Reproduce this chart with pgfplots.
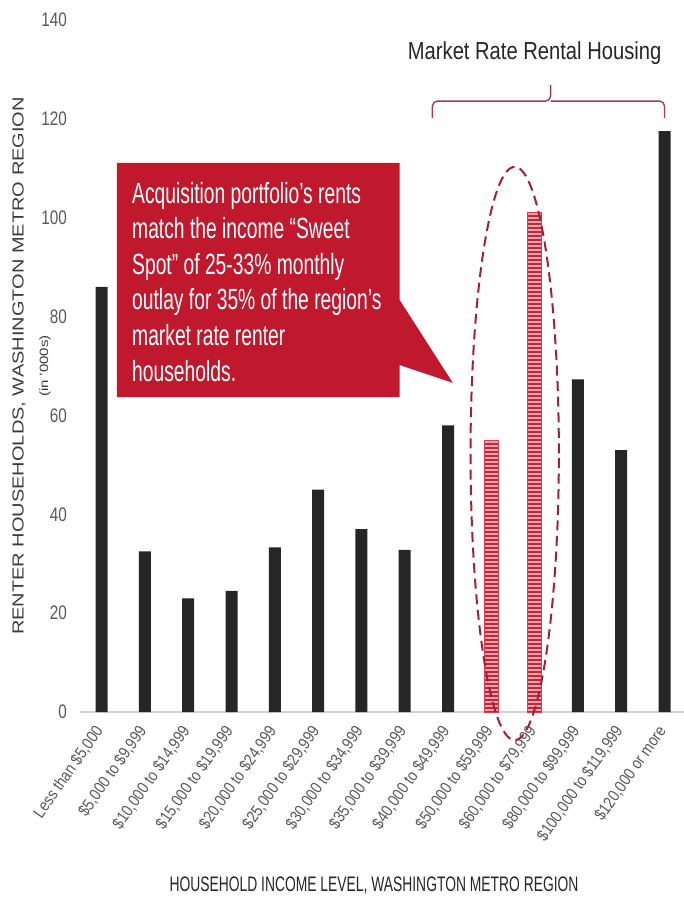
\documentclass[border=0pt]{standalone}
\usepackage{pgfplots}
\pgfplotsset{compat=1.18}
\usetikzlibrary{patterns.meta}
\usepackage{fontspec}
\setmainfont{Liberation Sans}[FakeStretch=0.66]
\newfontfamily\titlefont{Liberation Sans}[FakeStretch=0.82]
\newfontfamily\tickfont{Liberation Sans}[FakeStretch=0.78]
\newfontfamily\xtickfont{Liberation Sans}[FakeStretch=0.85]
\newfontfamily\ylabfont{Liberation Sans}
\definecolor{barblack}{HTML}{262626}
\definecolor{tickgray}{HTML}{595959}
\definecolor{calloutred}{RGB}{192,24,44}
\definecolor{hatchpink}{RGB}{248,160,170}
\definecolor{hatchdark}{RGB}{180,45,60}
\definecolor{hatchedge}{RGB}{220,60,75}
\definecolor{ellred}{RGB}{165,30,55}
\definecolor{bracketred}{RGB}{170,60,75}
\begin{document}
\begin{tikzpicture}
\useasboundingbox (-40pt,-94pt) rectangle (302pt,356pt);
\begin{axis}[
  name=ax,
  at={(0pt,0pt)}, anchor=south west,
  scale only axis,
  width=302pt, height=346pt,
  xmin=-0.5, xmax=13.45,
  ymin=0, ymax=140,
  clip=false,
  axis x line=bottom, axis y line=left,
  x axis line style={draw=gray!35, line width=0.8pt, -},
  y axis line style={draw=none},
  xtick={0,...,13},
  xticklabels={{Less than \$5,000},{\$5,000 to \$9,999},{\$10,000 to \$14,999},{\$15,000 to \$19,999},{\$20,000 to \$24,999},{\$25,000 to \$29,999},{\$30,000 to \$34,999},{\$35,000 to \$39,999},{\$40,000 to \$49,999},{\$50,000 to \$59,999},{\$60,000 to \$79,999},{\$80,000 to \$99,999},{\$100,000 to \$119,999},{\$120,000 or more}},
  ytick={0,20,...,140},
  major tick length=0pt,
  tick style={draw=none},
  /pgf/number format/assume math mode=true,
  yticklabel style={font=\tickfont\fontsize{9.8}{11}\selectfont, text=tickgray, xshift=-3pt},
  xticklabel style={yshift=-5pt, xshift=1pt, rotate=55, anchor=east, font=\xtickfont\fontsize{8.3}{9}\selectfont, text=tickgray},
  ybar, bar shift=0pt,
]
\addplot[fill=barblack, draw=none, bar width=6pt] coordinates {
  (0,86) (1,32.5) (2,23) (3,24.5) (4,33.3) (5,45) (6,37) (7,32.8) (8,58) (11,67.3) (12,53) (13,117.5)};
\addplot[fill=hatchpink, draw=hatchedge, line width=0.4pt, bar width=7pt,
  postaction={pattern={Lines[angle=0,distance=2pt,line width=1pt]}, pattern color=hatchdark}] coordinates {
  (9,55) (10,101)};
% callout
\fill[calloutred] (axis cs:0.35,111.1) -- (axis cs:6.88,111.1) -- (axis cs:6.88,83.4) -- (axis cs:8.11,66.6) -- (axis cs:6.88,70.2) -- (axis cs:6.88,63.7) -- (axis cs:0.35,63.7) -- cycle;
\node[anchor=north west, inner sep=0pt, align=left, text=white, font=\fontsize{14.6}{17.8}\selectfont, xshift=7.5pt, yshift=-9.3pt] at (axis cs:0.35,111.1)
 {Acquisition portfolio’s rents\\match the income “Sweet\\Spot” of 25-33\% monthly\\outlay for 35\% of the region’s\\market rate renter\\households.};
% ellipse
\draw[ellred, line width=1pt, dash pattern=on 5pt off 2.8pt] (axis cs:9.54,52.3) ellipse [x radius=1.02, y radius=58];
% bracket
\draw[bracketred, line width=0.7pt, rounded corners=2.5pt] (axis cs:7.64,120.2) -- (axis cs:7.64,123.6) -- (axis cs:10.37,123.6) -- (axis cs:10.37,126.8);
\draw[bracketred, line width=0.7pt, rounded corners=2.5pt] (axis cs:10.37,123.6) -- (axis cs:13.0,123.6) -- (axis cs:13.0,120.2);
\node[font=\titlefont\fontsize{12.3}{14}\selectfont, text=barblack] at (axis cs:10.0,133.2) {Market Rate Rental Housing};
\end{axis}
\node[rotate=90, yscale=0.8, font=\ylabfont\fontsize{10}{12}\selectfont, text=barblack!90] at ([xshift=-30.5pt]ax.west) {RENTER HOUSEHOLDS, WASHINGTON METRO REGION};
\node[rotate=90, yscale=0.8, font=\ylabfont\fontsize{7.5}{9}\selectfont, text=barblack!90] at ([xshift=-17.5pt]ax.west) {(in ’000s)};
\node[font=\fontsize{10.5}{12}\selectfont, text=barblack] at ([xshift=-4pt,yshift=-87pt]ax.south) {HOUSEHOLD INCOME LEVEL, WASHINGTON METRO REGION};
\end{tikzpicture}
\end{document}
